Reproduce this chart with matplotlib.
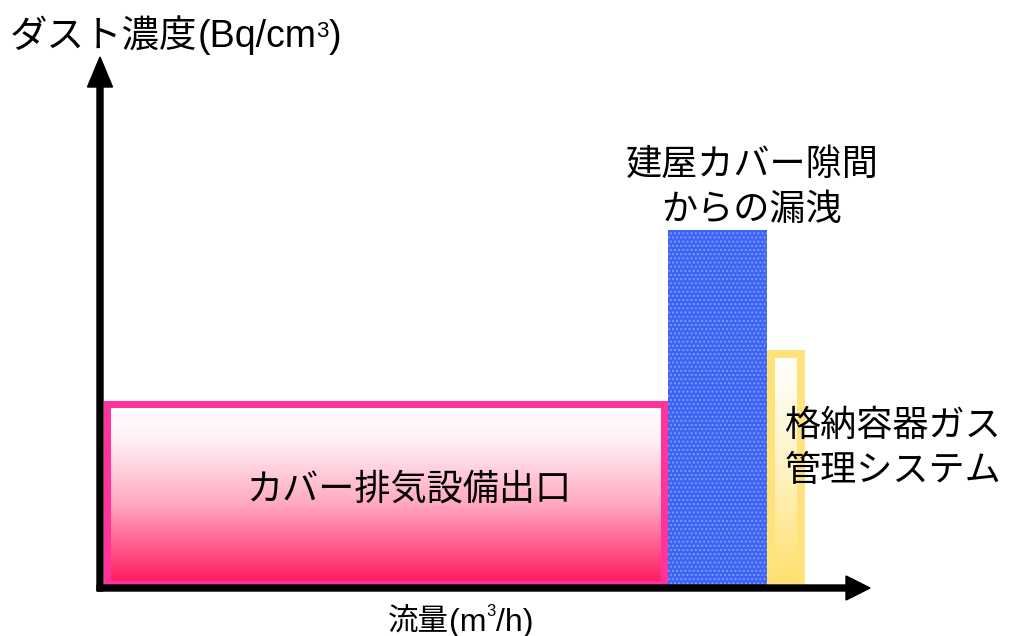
import numpy as np
import matplotlib
matplotlib.use('Agg')
import matplotlib.pyplot as plt
from matplotlib.patches import Rectangle, FancyArrow
from matplotlib.colors import LinearSegmentedColormap

plt.rcParams['font.family'] = ['Liberation Sans', 'Noto Sans CJK JP', 'DejaVu Sans']

# conceptual data (arbitrary units: flow width, dust concentration)
sources = ['カバー排気設備出口', '建屋カバー隙間\nからの漏洩', '格納容器ガス\n管理システム']
flows = [564, 99, 38]
concs = [187, 358, 238]

x_start = 4  # small gap from the y axis
# axis titles split into pieces: (text, fontsize, superscript?)
y_label = [('ダスト濃度', 27, False), ('(Bq/cm', 27, False), ('3', 16, True), (')', 27, False)]
x_label = [('流量', 22, False), ('(m', 23, False), ('3', 12, True), ('/h)', 23, False)]

fig = plt.figure(figsize=(10.12, 6.36), dpi=100)
ax = fig.add_axes([0, 0, 1, 1])
ax.set_xlim(-100, 912)
ax.set_ylim(-48, 588)
ax.axis('off')
renderer = fig.canvas.get_renderer()


def grad_box(x0, w, h, edge, cmap, border):
    ax.add_patch(Rectangle((x0, 0), w, h, facecolor=edge, edgecolor='none', zorder=2))
    g = np.linspace(0, 1, 256).reshape(-1, 1)
    ax.imshow(g, cmap=cmap, origin='lower', aspect='auto', zorder=3,
              extent=(x0 + border, x0 + w - border, border, h - border))


def chain(x, base, sup, pieces):
    # write pieces one after the other on a common baseline
    for s, size, is_sup in pieces:
        t = ax.text(x, sup if is_sup else base, s, fontsize=size, va='baseline', ha='left')
        bb = t.get_window_extent(renderer)
        x = ax.transData.inverted().transform((bb.x1, bb.y0))[0]


pink_cmap = LinearSegmentedColormap.from_list(
    'pink', [(0, '#FF1E62'), (0.45, '#FFA9C2'), (0.8, '#FFEEF3'), (1, '#FFFFFF')])
yellow_cmap = LinearSegmentedColormap.from_list(
    'yel', [(0, '#FFE070'), (0.5, '#FFF2C4'), (1, '#FFFFFF')])

edges = [x_start]
for f in flows:
    edges.append(edges[-1] + f)

# exhaust outlet (pink)
grad_box(edges[0], flows[0], concs[0], '#FF3399', pink_cmap, 7)
# leakage through cover gaps (blue, dotted)
ax.add_patch(Rectangle((edges[1], 0), flows[1], concs[1], facecolor='#3D63F2',
                       edgecolor='#7D98FF', hatch='....', linewidth=0, zorder=2))
# PCV gas control system (yellow)
grad_box(edges[2], flows[2], concs[2], '#FFE27A', yellow_cmap, 8)

# axes arrows
ax.add_patch(FancyArrow(0, -3, 0, 534, width=6, head_width=25, head_length=30,
                        length_includes_head=True, color='black', zorder=5))
ax.add_patch(FancyArrow(-3, 0, 773, 0, width=6, head_width=24, head_length=24,
                        length_includes_head=True, color='black', zorder=5))

chain(-90, 541, 551, y_label)
chain(288, -43, -28, x_label)

fs = 26
ax.text(309, 98, sources[0], fontsize=fs, va='center', ha='center', zorder=6)
l1, l2 = sources[1].split('\n')
ax.text(652, 423, l1, fontsize=fs, va='center', ha='center')
ax.text(652, 378, l2, fontsize=fs, va='center', ha='center')
l1, l2 = sources[2].split('\n')
ax.text(685, 162, l1, fontsize=fs, va='center', ha='left', zorder=6)
ax.text(685, 117, l2, fontsize=fs, va='center', ha='left', zorder=6)

fig.savefig('out.png', dpi=100)
